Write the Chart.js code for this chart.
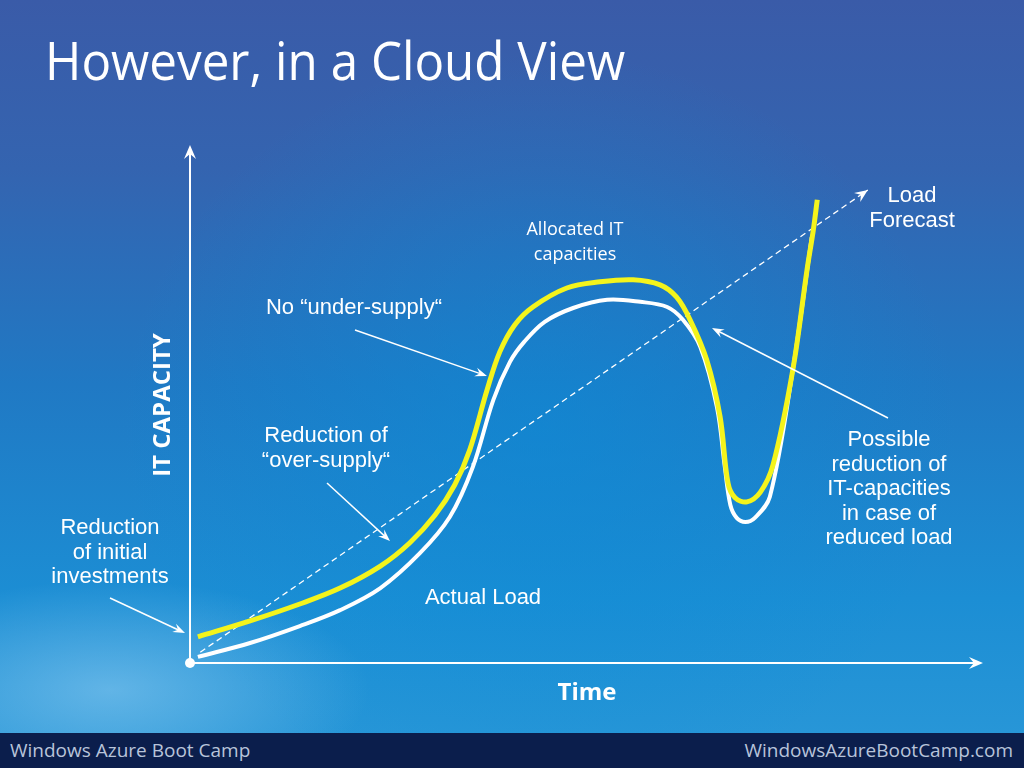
<!DOCTYPE html>
<html>
<head>
<meta charset="utf-8">
<script src="https://cdn.jsdelivr.net/npm/chart.js@4.4.1/dist/chart.umd.min.js"></script>
<style>
  html, body { margin: 0; padding: 0; }
  body {
    width: 1024px; height: 768px; overflow: hidden; position: relative;
    font-family: "Open Sans", sans-serif;
    background:
      radial-gradient(ellipse 260px 110px at 110px 690px, rgba(190,230,255,0.40), rgba(190,230,255,0) 100%),
      radial-gradient(ellipse 420px 380px at 540px 430px, rgba(10,140,215,0.55), rgba(10,140,215,0) 100%),
      linear-gradient(180deg, #3a5ba8 0%, #3464b0 22%, #2079c4 50%, #1c8ed4 78%, #2a98d8 100%);
  }
  #title {
    position: absolute; left: 45px; top: 33px;
    font-size: 53px; line-height: 53px; color: #fff; white-space: nowrap;
    transform-origin: 0 0;
  }
  #footer {
    position: absolute; left: 0; top: 733px; width: 1024px; height: 35px;
    background: #0b1e4c; color: #b8c4da; font-size: 19px; line-height: 35px;
  }
  #footer .l { position: absolute; left: 10px; }
  #footer .r { position: absolute; right: 11px; }
  #chart { position: absolute; left: 0; top: 0; }
</style>
</head>
<body>
<div id="title">However, in a Cloud View</div>
<canvas id="chart" width="1024" height="768"></canvas>
<div id="footer"><span class="l">Windows Azure Boot Camp</span><span class="r">WindowsAzureBootCamp.com</span></div>

<script>
// time runs 0..100 along the x axis, IT capacity 0..100 up the y axis
const allocatedTime = [1.0, 7.6, 13.9, 19.0, 24.1, 27.8, 31.0, 33.5, 35.4, 37.6, 39.2, 41.1, 43.4, 47.7, 51.9, 56.1, 59.5, 61.6, 63.3, 65.4, 67.1, 68.1, 69.0, 70.5, 72.2, 73.8, 76.3, 78.1, 78.9, 79.4];
const allocatedCapacity = [5.1, 8.2, 11.5, 14.6, 18.9, 23.4, 28.8, 34.7, 41.5, 53.2, 60.6, 65.9, 69.4, 73.1, 74.3, 74.7, 73.7, 71.3, 66.9, 59.1, 48.0, 35.1, 32.2, 31.4, 33.3, 38.6, 57.1, 76.6, 84.4, 90.3];

const actualTime = [1.0, 7.6, 13.9, 19.0, 24.1, 29.1, 32.9, 35.8, 38.4, 40.5, 42.3, 44.9, 48.5, 52.8, 57.0, 60.4, 62.4, 64.6, 66.7, 67.7, 68.4, 69.2, 70.3, 71.5, 73.4, 76.3, 78.7];
const actualLoad = [1.2, 3.9, 7.2, 10.3, 14.6, 21.4, 28.5, 38.2, 51.3, 58.7, 62.6, 66.5, 69.2, 70.8, 70.4, 69.4, 66.9, 61.6, 49.9, 38.2, 30.8, 28.3, 27.5, 28.3, 32.4, 57.1, 83.0];

const forecastTime = [1.3, 85.8];
const forecastLoad = [2.1, 92.2];

const toPoints = (xs, ys) => xs.map((x, i) => ({ x: x, y: ys[i] }));

// slide annotations (pixel layout)
const ARIAL = '"Liberation Sans", Arial, sans-serif';
const notes = [
  { lines: ['Load', 'Forecast'], x: 912, y: 196, font: '22px ' + ARIAL },
  { lines: ['Allocated IT', 'capacities'], x: 575, y: 230, font: '18px "Open Sans"' },
  { lines: ['No \u201Cunder-supply\u201C'], x: 354, y: 308, font: '22px ' + ARIAL },
  { lines: ['Reduction of', '\u201Cover-supply\u201C'], x: 326, y: 436, font: '22px ' + ARIAL },
  { lines: ['Reduction', 'of initial', 'investments'], x: 110, y: 528, font: '22px ' + ARIAL },
  { lines: ['Actual Load'], x: 483, y: 598, font: '22px ' + ARIAL },
  { lines: ['Possible', 'reduction of', 'IT-capacities', 'in case of', 'reduced load'], x: 889, y: 440, font: '22px ' + ARIAL }
];
const pointers = [
  [355, 330, 487, 376],
  [327, 483, 390, 541],
  [110, 598, 185, 633],
  [888, 418, 712, 328]
];

function arrowHead(ctx, x1, y1, x2, y2, len, half) {
  const a = Math.atan2(y2 - y1, x2 - x1);
  const c = Math.cos(a), s = Math.sin(a);
  ctx.beginPath();
  ctx.moveTo(x2, y2);
  ctx.lineTo(x2 - len * c + half * s, y2 - len * s - half * c);
  ctx.lineTo(x2 - len * 0.65 * c, y2 - len * 0.65 * s);
  ctx.lineTo(x2 - len * c - half * s, y2 - len * s + half * c);
  ctx.closePath();
  ctx.fill();
}

function arrow(ctx, x1, y1, x2, y2, len, half, width) {
  const a = Math.atan2(y2 - y1, x2 - x1);
  ctx.lineWidth = width;
  ctx.beginPath();
  ctx.moveTo(x1, y1);
  ctx.lineTo(x2 - Math.cos(a) * len * 0.6, y2 - Math.sin(a) * len * 0.6);
  ctx.stroke();
  arrowHead(ctx, x1, y1, x2, y2, len, half);
}

const slideDecor = {
  id: 'slideDecor',
  beforeDatasetsDraw(chart) {
    const ctx = chart.ctx;
    const { left, right, top, bottom } = chart.chartArea;
    ctx.save();
    ctx.strokeStyle = '#fff';
    ctx.fillStyle = '#fff';
    arrow(ctx, left, bottom, left, top - 5, 14, 6, 2);
    arrow(ctx, left, bottom, right + 3, bottom, 14, 6, 2);
    ctx.beginPath();
    ctx.arc(left, bottom, 5, 0, Math.PI * 2);
    ctx.fill();

    ctx.font = 'bold 24px "Open Sans"';
    ctx.textAlign = 'center';
    ctx.textBaseline = 'middle';
    ctx.fillText('Time', 587, 693);
    ctx.translate(163, 405);
    ctx.rotate(-Math.PI / 2);
    ctx.fillText('IT CAPACITY', 0, 0);
    ctx.restore();
  },
  afterDatasetsDraw(chart) {
    const ctx = chart.ctx;
    ctx.save();
    ctx.strokeStyle = '#fff';
    ctx.fillStyle = '#fff';

    // arrowhead on the forecast line
    const pts = chart.getDatasetMeta(2).data;
    const p1 = pts[pts.length - 2], p2 = pts[pts.length - 1];
    arrowHead(ctx, p1.x, p1.y, p2.x, p2.y, 13, 5.5);

    pointers.forEach(p => arrow(ctx, p[0], p[1], p[2], p[3], 12, 4.5, 1.5));

    ctx.textBaseline = 'middle';
    ctx.textAlign = 'center';
    notes.forEach(n => {
      ctx.font = n.font;
      n.lines.forEach((t, i) => ctx.fillText(t, n.x, n.y + i * 24.5));
    });
    ctx.restore();
  }
};

function build() {
  const t = document.getElementById('title');
  t.style.transform = 'scaleX(' + (580 / t.offsetWidth) + ')';

  new Chart(document.getElementById('chart'), {
    type: 'line',
    data: {
      datasets: [
        {
          label: 'Allocated IT capacities',
          data: toPoints(allocatedTime, allocatedCapacity),
          borderColor: '#f4f41c',
          borderWidth: 5,
          tension: 0.35,
          pointRadius: 0,
          fill: false,
          clip: false
        },
        {
          label: 'Actual Load',
          data: toPoints(actualTime, actualLoad),
          borderColor: '#ffffff',
          borderWidth: 4,
          tension: 0.35,
          pointRadius: 0,
          fill: false,
          clip: false
        },
        {
          label: 'Load Forecast',
          data: toPoints(forecastTime, forecastLoad),
          borderColor: '#ffffff',
          borderWidth: 1.3,
          borderDash: [6, 4],
          pointRadius: 0,
          fill: false,
          clip: false
        }
      ]
    },
    options: {
      responsive: false,
      animation: false,
      layout: { padding: { left: 190, right: 44, top: 150, bottom: 105 } },
      plugins: { legend: { display: false }, tooltip: { enabled: false } },
      scales: {
        x: { type: 'linear', min: 0, max: 100, display: false },
        y: { min: 0, max: 100, display: false }
      }
    },
    plugins: [slideDecor]
  });
}

Promise.all([
  document.fonts.load('53px "Open Sans"'),
  document.fonts.load('bold 24px "Open Sans"'),
  document.fonts.load('22px "Liberation Sans"')
]).then(build, build);
</script>
</body>
</html>
